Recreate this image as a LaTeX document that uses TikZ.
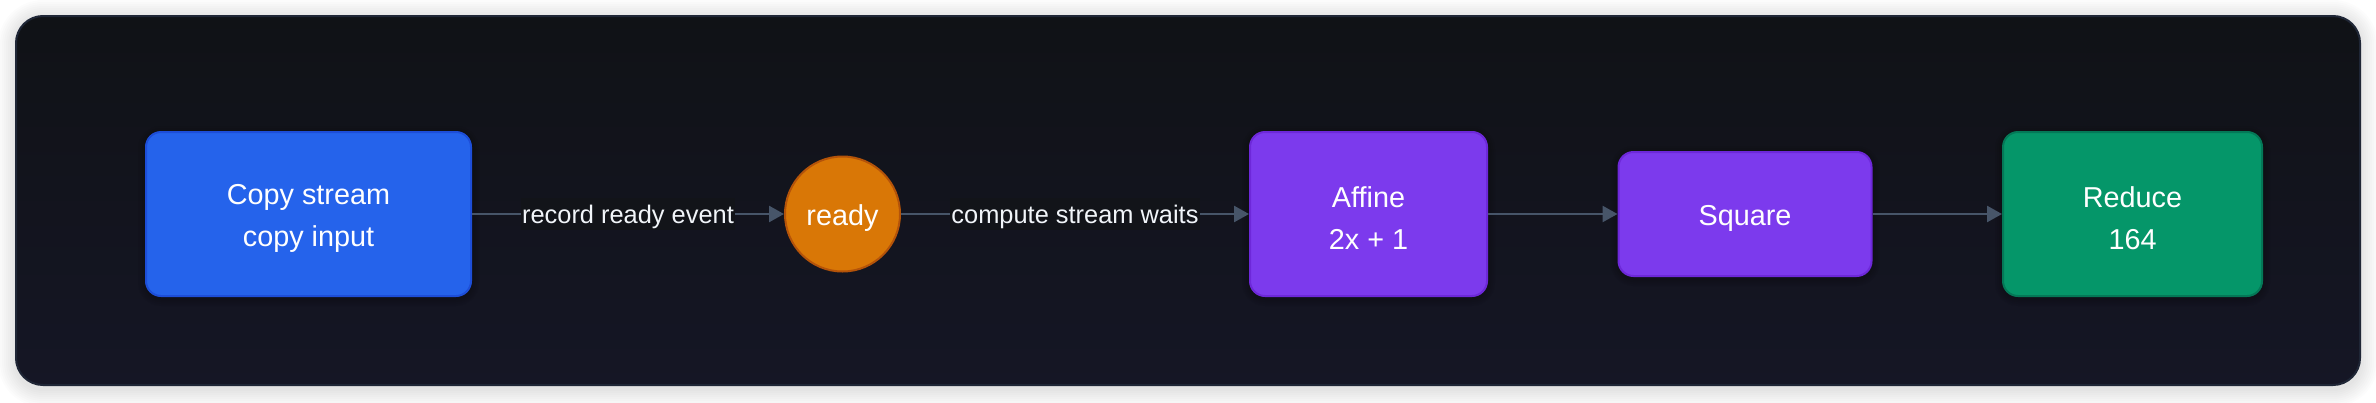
\documentclass[tikz,border=0pt]{standalone}
\usepackage{fontspec}
\setmainfont{Liberation Sans}
\usetikzlibrary{arrows.meta,positioning}
\definecolor{pageBg}{HTML}{FFFFFF}
\definecolor{panelTop}{HTML}{101216}
\definecolor{panelBot}{HTML}{151625}
\definecolor{panelMid}{HTML}{121419}
\definecolor{panelLine}{HTML}{1F2636}
\definecolor{edgeCol}{HTML}{475569}
\definecolor{blueFill}{HTML}{2563EB}
\definecolor{blueLine}{HTML}{1D4ED8}
\definecolor{orangeFill}{HTML}{D97706}
\definecolor{orangeLine}{HTML}{B45309}
\definecolor{violetFill}{HTML}{7C3AED}
\definecolor{violetLine}{HTML}{6D28D9}
\definecolor{greenFill}{HTML}{059669}
\definecolor{greenLine}{HTML}{047857}
\definecolor{lblText}{HTML}{F1F5F9}
\newcommand\lowr[1]{\raisebox{-2pt}[\height][\depth]{#1}}
\newcommand\lowl[1]{\raisebox{-1.5pt}[\height][\depth]{#1}}
\tikzset{
  x=0.5pt, y=-0.5pt,
  procbox/.style={rectangle, rounded corners=7.5pt, line width=1pt, text=white,
    align=center, font=\fontsize{14.4}{21}\selectfont, inner sep=0pt,
    minimum height=82pt},
  eventnode/.style={circle, line width=1pt, text=white, fill=orangeFill, draw=orangeLine,
    font=\fontsize{14.4}{21}\selectfont, inner sep=0pt, minimum size=57.5pt},
  flow/.style={draw=edgeCol, line width=1.25pt, -{Triangle[length=7.5pt,width=8pt]}},
  edgelbl/.style={fill=panelMid, text=lblText, inner xsep=0.6pt, inner ysep=2pt,
    font=\fontsize{12.7}{15}\selectfont},
}
\begin{document}
\begin{tikzpicture}
\useasboundingbox (0,0) rectangle (2376,402);
\fill[pageBg] (0,0) rectangle (2376,402);
% soft shadow of panel
\foreach \i in {1,...,9}{
  \fill[black, opacity=0.012, rounded corners=13.5pt+\i pt]
    (16-2*\i,18-2*\i) rectangle (2360+2*\i,389+2*\i);
}
% panel
\fill[top color=panelTop, bottom color=panelBot, rounded corners=13.5pt]
  (16,16) rectangle (2360,385);
\draw[panelLine, line width=1pt, rounded corners=13.5pt]
  (16,16) rectangle (2360,385);
% node shadows
\foreach \cx/\w/\h in {308.5/325/164, 1368.5/237/164, 1745/253/124, 2132.5/259/164}{
  \foreach \i in {1,...,4}{
    \fill[black, opacity=0.05, rounded corners=7.5pt+\i pt]
      (\cx-\w/2-2*\i, 216-\h/2-2*\i) rectangle (\cx+\w/2+2*\i, 216+\h/2+2*\i);
  }
}
% nodes
\node[procbox, fill=blueFill, draw=blueLine, minimum width=162.5pt] (copy) at (308.5,214)
  {\lowr{Copy stream}\\\lowr{copy input}};
\node[eventnode] (ready) at (842.5,214) {\lowr{ready}};
\node[procbox, fill=violetFill, draw=violetLine, minimum width=118.5pt] (affine) at (1368.5,214)
  {\lowr{Affine}\\\lowr{2x + 1}};
\node[procbox, fill=violetFill, draw=violetLine, minimum width=126.5pt, minimum height=62pt] (square) at (1745,214)
  {\lowr{Square}};
\node[procbox, fill=greenFill, draw=greenLine, minimum width=129.5pt] (reduce) at (2132.5,214)
  {\lowr{Reduce}\\\lowr{164}};
% connectors
\draw[flow] (copy) -- node[edgelbl] {\lowl{record ready event}} (ready);
\draw[flow] (ready) -- node[edgelbl] {\lowl{compute stream waits}} (affine);
\draw[flow] (affine) -- (square);
\draw[flow] (square) -- (reduce);
\end{tikzpicture}
\end{document}
